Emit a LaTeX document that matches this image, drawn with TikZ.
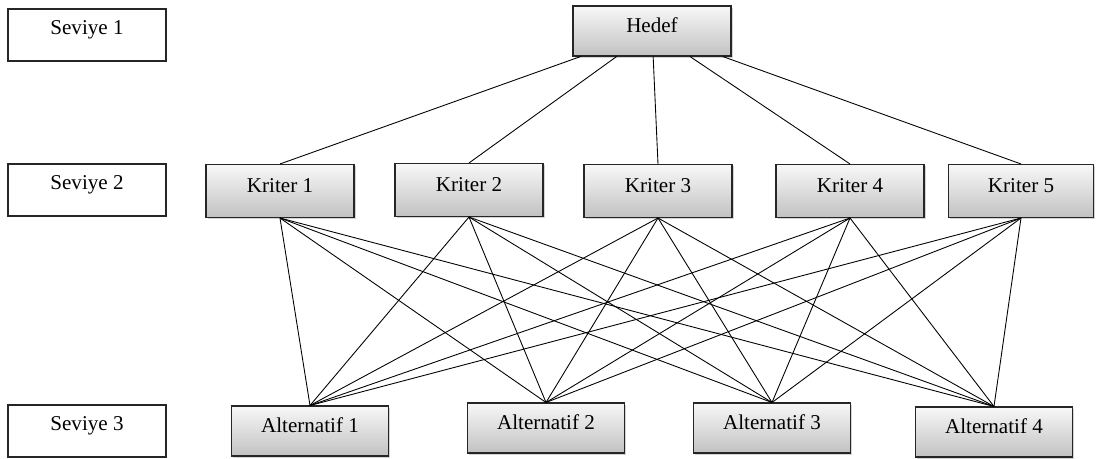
\documentclass[tikz,border=0pt]{standalone}
\usepackage{fontspec}
\setmainfont{Liberation Serif}
\usetikzlibrary{shadows}

\begin{document}
\begin{tikzpicture}[
    x=0.02cm, y=-0.02cm,
    level/.style={draw=black!85, line width=0.6pt, fill=white, minimum width=3.16cm,
        minimum height=1.04cm, font=\fontsize{12}{14}\selectfont,
        text height=9pt, text depth=10pt},
    box/.style={draw=black!85, line width=0.6pt, top color=black!3, bottom color=black!24,
        drop shadow={shadow xshift=0.9pt, shadow yshift=-0.9pt, opacity=0.35},
        font=\fontsize{12}{14}\selectfont, text height=9pt, text depth=7pt},
    link/.style={line width=0.5pt},
]
    \useasboundingbox (0,0) rectangle (1096,459);

    % Level labels
    \node[level] (s1) at (87, 35) {Seviye 1};
    \node[level] (s2) at (87, 190) {Seviye 2};
    \node[level] (s3) at (87, 431) {Seviye 3};

    % Goal
    \node[box, minimum width=3.16cm, minimum height=1cm] (hedef) at (652, 31) {Hedef};

    % Criteria
    \node[box, minimum width=2.96cm, minimum height=1.06cm] (k1) at (280, 191) {Kriter 1};
    \node[box, minimum width=2.96cm, minimum height=1.06cm] (k2) at (469, 190) {Kriter 2};
    \node[box, minimum width=2.96cm, minimum height=1.06cm] (k3) at (658, 191) {Kriter 3};
    \node[box, minimum width=2.96cm, minimum height=1.06cm] (k4) at (850, 191) {Kriter 4};
    \node[box, minimum width=2.90cm, minimum height=1.06cm] (k5) at (1021, 191) {Kriter 5};

    % Alternatives
    \node[box, minimum width=3.14cm, minimum height=1cm] (a1) at (310, 431) {Alternatif 1};
    \node[box, minimum width=3.14cm, minimum height=1cm] (a2) at (546, 428) {Alternatif 2};
    \node[box, minimum width=3.14cm, minimum height=1cm] (a3) at (772, 428) {Alternatif 3};
    \node[box, minimum width=3.14cm, minimum height=1cm] (a4) at (994, 432) {Alternatif 4};

    % Connections
    \foreach \k in {1,...,5}
        \draw[link] (hedef) -- (k\k.north);
    \foreach \k in {1,...,5}
        \foreach \a in {1,...,4}
            \draw[link] (k\k.south) -- (a\a.north);
\end{tikzpicture}
\end{document}
